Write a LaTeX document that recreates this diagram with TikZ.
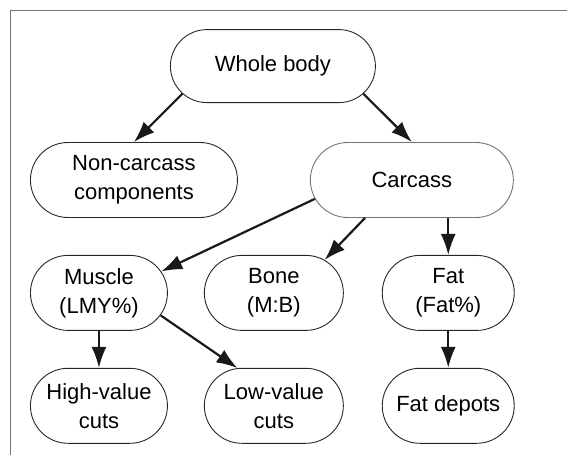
\documentclass[tikz,border=0pt]{standalone}
\usepackage{fontspec}
\setmainfont{Liberation Sans}
\usepackage{tikz}
\usetikzlibrary{shapes.misc, arrows.meta, positioning, calc}

\begin{document}
\begin{tikzpicture}[x=1pt, y=1pt, >=Latex, thick]
    % Styles
    \tikzstyle{part} = [rounded rectangle, draw=black!85, line width=0.9pt, align=center, minimum height=75pt, inner sep=0pt, font=\fontsize{22}{29}\selectfont]
    \tikzstyle{line} = [draw, line width=2.2pt, black!90, -{Latex[length=21pt,width=15pt]}]

    \useasboundingbox (0,0) rectangle (567,-455);

    % Frame
    \draw [black!55, line width=1.6pt] (10.5,-455) -- (10.5,-10.5) -- (567,-10.5);

    % Nodes
    \node [part, minimum width=207pt, anchor=west] (noncarc) at (30,-180) {Non-carcass\\components};
    \node [part, minimum width=203pt, draw=black!55, right=72pt of noncarc] (carcass) {Carcass};
    \node [part, minimum width=205pt, minimum height=73pt, above=39pt of $(noncarc.north)!0.5!(carcass.north)$] (whole) {Whole body};
    \node [part, minimum width=137pt, below=37pt of noncarc.south west, anchor=north west] (muscle) {Muscle\\(LMY\%)};
    \node [part, minimum width=139pt, right=36pt of muscle] (bone) {Bone\\(M:B)};
    \node [part, minimum width=132pt, right=38pt of bone] (fat) {Fat\\(Fat\%)};
    \node [part, minimum width=137pt, below=37pt of muscle] (high) {High-value\\cuts};
    \node [part, minimum width=139pt, below=37pt of bone] (low) {Low-value\\cuts};
    \node [part, minimum width=132pt, below=37pt of fat] (depots) {Fat depots};

    % Edges
    \draw [line] (whole.197) -- (noncarc.north);
    \draw [line] (whole.343) -- (carcass.north);
    \draw [line] (carcass.191) -- (muscle.19);
    \draw [line] (carcass.219) -- (bone.33);
    \draw [line] (carcass.south -| fat.north) -- (fat.north);
    \draw [line] (muscle.south) -- (high.north);
    \draw [line] (muscle.340) -- (low.134);
    \draw [line] (fat.south) -- (depots.north);
\end{tikzpicture}
\end{document}
